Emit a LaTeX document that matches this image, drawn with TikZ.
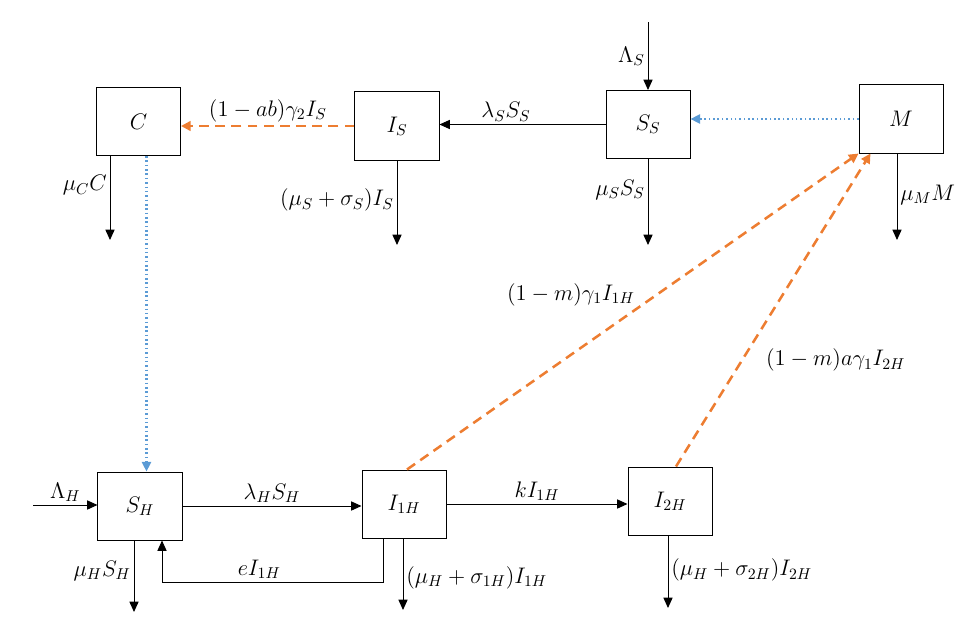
\RequirePackage{fix-cm}
\documentclass[tikz,border=0pt]{standalone}
\usepackage{amsmath,amssymb}
\usepackage{xcolor}
\usepackage{tikz}
\usetikzlibrary{arrows.meta,positioning}
\definecolor{flowor}{HTML}{ED7D31}
\definecolor{flowbl}{HTML}{5B9BD5}

\begin{document}
\begin{tikzpicture}[
  x=0.025cm, y=-0.025cm,
  font=\fontsize{16}{19}\selectfont,
  comp/.style={draw, line width=0.7pt, minimum width=2.1cm, minimum height=1.7cm, inner sep=0pt},
  flow/.style={-{Triangle[length=2.6mm,width=2.3mm]}, line width=0.7pt},
  trans/.style={-{Triangle[length=2.4mm,width=2.4mm]}, draw=flowor, line width=1.8pt, dash pattern=on 7pt off 4.5pt},
  contact/.style={-{Triangle[length=2.4mm,width=2.3mm]}, draw=flowbl, line width=1.5pt, dash pattern=on 1.1pt off 2pt},
  lbl/.style={inner sep=2pt},
]
\useasboundingbox (0,0) rectangle (975,638);

% compartments
\node[comp] (C) at (138.5,121.5) {$C$};
\node[comp] (IS) at (397,126) {$I_S$};
\node[comp] (SS) at (648,124.5) {$S_S$};
\node[comp] (M) at (901,119) {$M$};
\node[comp] (SH) at (140,506) {$S_H$};
\node[comp] (I1H) at (404,504) {$I_{1H}$};
\node[comp] (I2H) at (670,501) {$I_{2H}$};

% free ends
\coordinate (LS) at (648,22);
\coordinate (LH) at (33,505);
\coordinate (Cout) at (110,240);
\coordinate (ISout) at (397,245);
\coordinate (SSout) at (648,245);
\coordinate (Mout) at (897,240);
\coordinate (SHout) at (134,612);
\coordinate (I1Hout) at (403,610);
\coordinate (I2Hout) at (668,608);
\coordinate (ret) at (162,582);

% recruitment
\draw[flow] (LS) -- (SS.north) node[lbl,midway,left] {$\Lambda_S$};
\draw[flow] (LH) -- (LH -| SH.west) node[lbl,midway,above] {$\Lambda_H$};

% snail / parasite flows
\draw[flow] (SS.west) -- (SS.west -| IS.east) node[lbl,pos=0.6,above] {$\lambda_S S_S$};
\draw[contact] (M.west) -- (M.west -| SS.east);
\draw[trans] (IS.west) -- (IS.west -| C.east) node[lbl,midway,above] {$(1-ab)\gamma_2 I_S$};
\draw[contact] ([xshift=0.2cm]C.south) -- ([xshift=0.2cm]C.south |- SH.north);

% host flows
\draw[flow] (SH.east) -- (SH.east -| I1H.west) node[lbl,midway,above] {$\lambda_H S_H$};
\draw[flow] (I1H.east) -- (I1H.east -| I2H.west) node[lbl,midway,above] {$kI_{1H}$};
\draw[flow] ([xshift=-0.525cm]I1H.south) |- (ret) node[lbl,pos=0.78,above] {$eI_{1H}$} -- (ret |- SH.south);
\draw[trans] ([xshift=0.075cm]I1H.north) -- (M.south west)
  node[pos=0.51,above left,inner sep=1pt] {$(1-m)\gamma_1 I_{1H}$};
\draw[trans] ([xshift=0.15cm]I2H.north) -- ([xshift=0.3cm]M.south west)
  node[pos=0.34,anchor=west,xshift=0.45cm] {$(1-m)a\gamma_1 I_{2H}$};

% deaths
\draw[flow] (C.south -| Cout) -- (Cout) node[lbl,pos=0.35,left] {$\mu_C C$};
\draw[flow] (IS.south -| ISout) -- (ISout) node[lbl,pos=0.47,left] {$(\mu_S+\sigma_S)I_S$};
\draw[flow] (SS.south -| SSout) -- (SSout) node[lbl,pos=0.36,left] {$\mu_S S_S$};
\draw[flow] (M.south -| Mout) -- (Mout) node[lbl,pos=0.48,right] {$\mu_M M$};
\draw[flow] (SH.south -| SHout) -- (SHout) node[lbl,pos=0.42,left] {$\mu_H S_H$};
\draw[flow] (I1H.south -| I1Hout) -- (I1Hout) node[lbl,pos=0.55,right] {$(\mu_H+\sigma_{1H})I_{1H}$};
\draw[flow] (I2H.south -| I2Hout) -- (I2Hout) node[lbl,pos=0.48,right] {$(\mu_H+\sigma_{2H})I_{2H}$};
\end{tikzpicture}
\end{document}
